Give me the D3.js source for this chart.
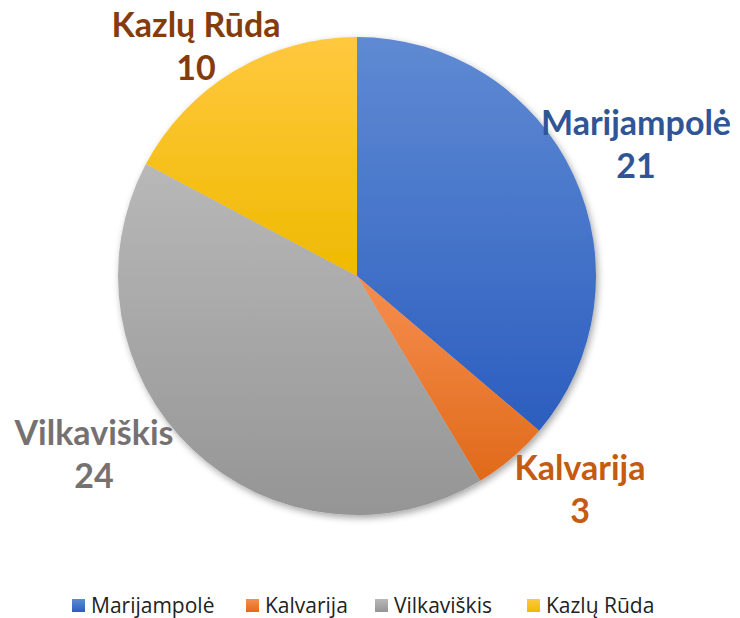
<!DOCTYPE html>
<html><head><meta charset="utf-8">
<script src="https://cdn.jsdelivr.net/npm/d3@7"></script>
<style>body{margin:0;background:#fff;} svg{display:block;}</style>
</head><body>
<svg id="chart" width="740" height="618"></svg>
<script>
const categories = ["Marijampolė", "Kalvarija", "Vilkaviškis", "Kazlų Rūda"];
const values = [21, 3, 24, 10];
const topColors = ["#5f8ad3", "#f68e4f", "#b8b8b8", "#ffc83f"];
const bottomColors = ["#2c5ebf", "#e06a1a", "#959595", "#efba00"];
const labelColors = ["#2f5597", "#c55a11", "#767171", "#843c0c"];

const svg = d3.select("#chart");
const cx = 357, cy = 276, r = 239;

const defs = svg.append("defs");
categories.forEach((c, i) => {
  const g = defs.append("linearGradient").attr("id", "g" + i)
    .attr("x1", 0).attr("y1", 0).attr("x2", 0).attr("y2", 1);
  g.append("stop").attr("offset", "0%").attr("stop-color", topColors[i]);
  g.append("stop").attr("offset", "100%").attr("stop-color", bottomColors[i]);
});
const f = defs.append("filter").attr("id", "sh").attr("x", "-20%").attr("y", "-20%").attr("width", "140%").attr("height", "140%");
f.append("feDropShadow").attr("dx", 2).attr("dy", 3).attr("stdDeviation", 3.5)
  .attr("flood-color", "#000").attr("flood-opacity", 0.35);

const pie = d3.pie().sort(null).value(d => d);
const arcs = pie(values);
const arc = d3.arc().innerRadius(0).outerRadius(r);

const g = svg.append("g").attr("transform", `translate(${cx},${cy})`);
g.append("g").attr("filter", "url(#sh)")
  .selectAll("path").data(arcs).enter().append("path")
  .attr("d", arc)
  .attr("fill", (d, i) => `url(#g${i})`);

// data labels
const labelPos = [[636, 135], [580, 480], [94, 445], [196, 37]];
const lg = svg.append("g").attr("font-family", "Lato, 'Open Sans', sans-serif").attr("font-weight", "bold");
categories.forEach((c, i) => {
  const t = lg.append("text").attr("text-anchor", "middle").attr("fill", labelColors[i])
    .attr("font-size", 34);
  t.append("tspan").attr("x", labelPos[i][0]).attr("y", labelPos[i][1]).text(c);
  t.append("tspan").attr("x", labelPos[i][0]).attr("y", labelPos[i][1] + 43).text(values[i]);
});

// legend
const legX = [72, 246, 375, 527];
const leg = svg.append("g").attr("font-family", "'Open Sans', sans-serif").attr("font-size", 21).attr("fill", "#222");
categories.forEach((c, i) => {
  leg.append("rect").attr("x", legX[i]).attr("y", 599).attr("width", 13).attr("height", 13)
    .attr("fill", `url(#g${i})`);
  leg.append("text").attr("x", legX[i] + 19).attr("y", 613).text(c);
});
</script>
</body></html>
